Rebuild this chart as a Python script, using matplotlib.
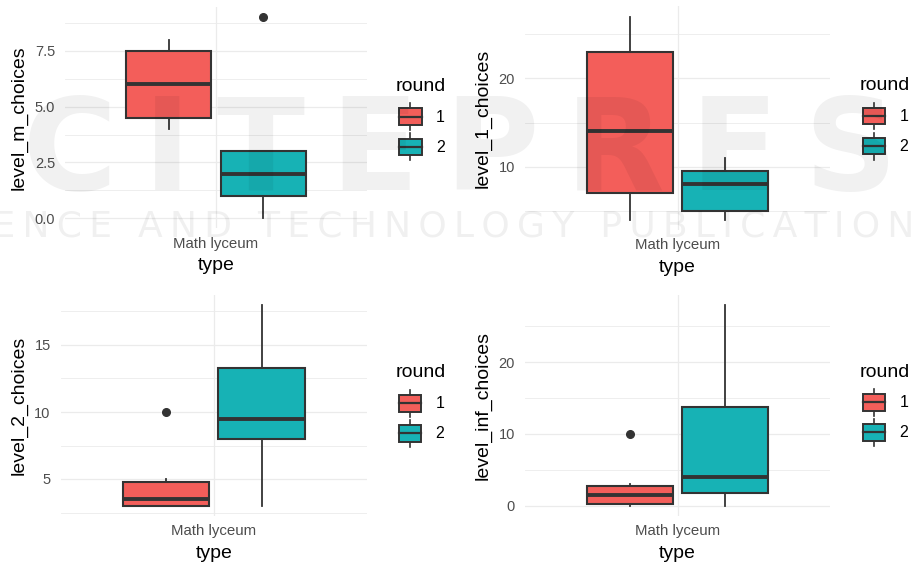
import matplotlib
matplotlib.use("Agg")
import matplotlib.pyplot as plt
from matplotlib.patches import Rectangle
from matplotlib.lines import Line2D
from matplotlib.legend_handler import HandlerBase
from matplotlib.ticker import FixedLocator, FuncFormatter

plt.rcParams["font.family"] = ["Liberation Sans", "DejaVu Sans"]

# ---- data -------------------------------------------------------------
category = "Math lyceum"
rounds = ["1", "2"]
round_colors = ["#F35E5A", "#17B2B5"]

# five-number summaries per round: lower whisker, Q1, median, Q3, upper whisker
level_m_stats = [(4, 4.5, 6, 7.5, 8), (0, 1, 2, 3, 3)]
level_m_outliers = [[], [9]]

level_1_stats = [(4, 7, 14, 23, 27), (4, 5, 8, 9.5, 11)]
level_1_outliers = [[], []]

level_2_stats = [(3, 3, 3.5, 4.75, 5), (3, 8, 9.5, 13.25, 18)]
level_2_outliers = [[10], []]

level_inf_stats = [(0, 0.25, 1.5, 2.75, 3), (0, 1.75, 4, 13.75, 28)]
level_inf_outliers = [[10], []]

watermark_name = "SCITEPRESS"
watermark_tagline = "SCIENCE AND TECHNOLOGY PUBLICATIONS"

panels = [
    dict(name="level_m_choices", stats=level_m_stats, outliers=level_m_outliers,
         major=[0, 2.5, 5, 7.5], minor=[1.25, 3.75, 6.25, 8.75], fmt="{:.1f}",
         box=(65, 7.1, 367, 228.4), legend=(399.3, 103.3), title=(395.5, 90.7)),
    dict(name="level_1_choices", stats=level_1_stats, outliers=level_1_outliers,
         major=[10, 20], minor=[5, 15, 25], fmt="{:.0f}",
         box=(525, 6.4, 830, 229.8), legend=(862.7, 102.7), title=(859.3, 90.0)),
    dict(name="level_2_choices", stats=level_2_stats, outliers=level_2_outliers,
         major=[5, 10, 15], minor=[2.5, 7.5, 12.5, 17.5], fmt="{:.0f}",
         box=(60.7, 294.75, 366.7, 515.85), legend=(399.0, 390.0), title=(395.5, 376.7)),
    dict(name="level_inf_choices", stats=level_inf_stats, outliers=level_inf_outliers,
         major=[0, 10, 20], minor=[5, 15, 25], fmt="{:.0f}",
         box=(525, 294.9, 830, 515.7), legend=(862.7, 389.0), title=(859.3, 376.7)),
]

# ---- styling ----------------------------------------------------------
W, H = 911, 563
DPI = 100
EDGE = "#333333"
GRID = "#EBEBEB"
DODGE = 0.1875
BOX_W = 0.3375


class BoxKey(HandlerBase):
    """Legend key drawn as a miniature box-and-whisker glyph."""

    def create_artists(self, legend, orig_handle, xdescent, ydescent,
                       width, height, fontsize, trans):
        fc = orig_handle.get_facecolor()
        x0, y0 = -xdescent, -ydescent
        xm = x0 + width / 2
        bh = height * 0.62
        yb = y0 + (height - bh) / 2
        lo = Line2D([xm, xm], [y0, yb], color=EDGE, lw=1.2, transform=trans)
        hi = Line2D([xm, xm], [yb + bh, y0 + height], color=EDGE, lw=1.2, transform=trans)
        box = Rectangle((x0, yb), width, bh, facecolor=fc, edgecolor=EDGE,
                        lw=1.4, transform=trans)
        med = Line2D([x0, x0 + width], [y0 + height / 2] * 2, color=EDGE,
                     lw=1.6, transform=trans)
        return [lo, hi, box, med]


fig = plt.figure(figsize=(W / DPI, H / DPI), dpi=DPI)
fig.patch.set_facecolor("white")

for p in panels:
    l, t, r, b = p["box"]
    ax = fig.add_axes([l / W, 1 - b / H, (r - l) / W, (b - t) / H])
    ax.set_facecolor("white")
    for s in ax.spines.values():
        s.set_visible(False)

    bxp_stats = []
    for (wlo, q1, med, q3, whi), fl in zip(p["stats"], p["outliers"]):
        bxp_stats.append(dict(whislo=wlo, q1=q1, med=med, q3=q3, whishi=whi, fliers=fl))

    parts = ax.bxp(
        bxp_stats, positions=[-DODGE, DODGE], widths=BOX_W, patch_artist=True,
        showcaps=False, manage_ticks=False,
        boxprops=dict(edgecolor=EDGE, linewidth=1.5),
        medianprops=dict(color=EDGE, linewidth=2.8, solid_capstyle="butt"),
        whiskerprops=dict(color=EDGE, linewidth=1.3),
        flierprops=dict(marker="o", markerfacecolor=EDGE, markeredgecolor=EDGE,
                        markersize=5.5, linestyle="none"),
        zorder=3,
    )
    for patch, c in zip(parts["boxes"], round_colors):
        patch.set_facecolor(c)

    # ggplot-style limits: 5% expansion of the data range
    vals = [v for st, fl in zip(p["stats"], p["outliers"]) for v in (st[0], st[4], *fl)]
    lo, hi = min(vals), max(vals)
    pad = 0.05 * (hi - lo)
    ax.set_ylim(lo - pad, hi + pad)
    ax.set_xlim(-0.6, 0.6)

    ax.yaxis.set_major_locator(FixedLocator(p["major"]))
    ax.yaxis.set_minor_locator(FixedLocator(p["minor"]))
    ax.yaxis.set_major_formatter(FuncFormatter(lambda v, _, f=p["fmt"]: f.format(v)))
    ax.set_xticks([0])
    ax.set_xticklabels([category])

    ax.grid(True, which="major", color=GRID, linewidth=0.9, zorder=0)
    ax.grid(True, which="minor", axis="y", color=GRID, linewidth=0.6, zorder=0)
    ax.set_axisbelow(True)

    ax.tick_params(axis="y", which="both", length=0, pad=7.2, labelsize=10.5,
                   labelcolor="#4D4D4D")
    ax.tick_params(axis="x", which="both", length=0, pad=6.2, labelsize=10.8,
                   labelcolor="#4D4D4D")

    ax.set_xlabel("type", fontsize=14, labelpad=4.5)
    ax.set_ylabel(p["name"], fontsize=14)
    label_x = 28 if l < 400 else 492
    ax.yaxis.set_label_coords((label_x - l) / (r - l), 0.5)

    handles = [Rectangle((0, 0), 1, 1, facecolor=c) for c in round_colors]
    lx, ly = p["legend"]
    fig.legend(handles, rounds, loc="upper left",
               bbox_to_anchor=(lx / W, 1 - ly / H), frameon=False,
               borderpad=0, borderaxespad=0, fontsize=11.5,
               handlelength=1.4, handleheight=2.19, labelspacing=0.22,
               handletextpad=0.9, handler_map={Rectangle: BoxKey()})
    tx, ty = p["title"]
    fig.text(tx / W, 1 - ty / H, "round", fontsize=14, ha="left", va="baseline")

# faint publisher watermark laid across the sheet, letter-spaced
THIN = "\u2009"
fig.text(460 / W, 1 - 190 / H, THIN.join(watermark_name), fontsize=93,
         fontweight="bold", family="DejaVu Sans", color="black", alpha=0.055,
         ha="center", va="baseline", zorder=10)
fig.text(428 / W, 1 - 236 / H, THIN.join(watermark_tagline), fontsize=26,
         family="DejaVu Sans", color="black", alpha=0.06,
         ha="center", va="baseline", zorder=10)

fig.savefig("out.png", dpi=DPI, facecolor="white")
